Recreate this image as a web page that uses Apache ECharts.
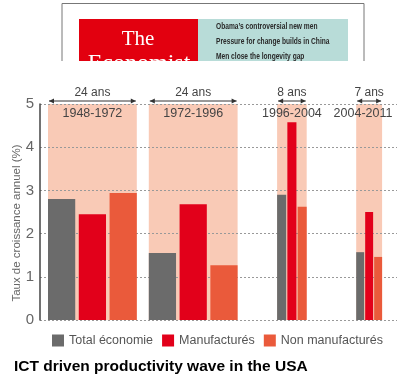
<!DOCTYPE html>
<html>
<head>
<meta charset="utf-8">
<script src="https://cdn.jsdelivr.net/npm/echarts@6/dist/echarts.min.js"></script>
<style>
  html, body { margin: 0; padding: 0; background: #fff; }
  #main { width: 397px; height: 379px; }
</style>
</head>
<body>
<div id="main"></div>
<script>
// periods (bands) and their lengths
var periods = ['1948-1972', '1972-1996', '1996-2004', '2004-2011'];
var durations = ['24 ans', '24 ans', '8 ans', '7 ans'];
var startYears = [1948, 1972, 1996, 2004];
var endYears = [1972, 1996, 2004, 2011];

// series values (% per year)
var totalEconomie = [2.8, 1.55, 2.9, 1.57];
var manufactures = [2.45, 2.68, 4.58, 2.5];
var nonManufactures = [2.94, 1.27, 2.62, 1.46];

var yTicks = [0, 1, 2, 3, 4, 5];

// layout: horizontal axis is in pixels-from-axis, bands are proportional to years
var PX_PER_YEAR = 3.7;
var GAPS = [8, 12, 39.5, 49.5];
var bandStart = [], bandEnd = [];
var cur = 0;
for (var i = 0; i < periods.length; i++) {
  cur += GAPS[i];
  bandStart.push(cur);
  cur += (endYears[i] - startYears[i]) * PX_PER_YEAR;
  bandEnd.push(cur);
}

var FONT = 'Liberation Sans';
var yMax = yTicks[yTicks.length - 1];

function bandItem(params, api) {
  var i = api.value(0);
  var p0 = api.coord([bandStart[i], yMax]);
  var p1 = api.coord([bandEnd[i], 0]);
  return {
    type: 'rect',
    shape: { x: p0[0], y: p0[1], width: p1[0] - p0[0], height: p1[1] - p0[1] },
    style: { fill: '#f9cab6' }
  };
}

function barItem(k) {
  return function (params, api) {
    var i = api.value(0), v = api.value(1);
    var w = bandEnd[i] - bandStart[i];
    var g = w * 0.04;
    var bw = (w - 2 * g) / 3;
    var x0 = bandStart[i] + k * (bw + g);
    var p0 = api.coord([x0, v]);
    var p1 = api.coord([x0 + bw, 0]);
    return {
      type: 'rect',
      shape: { x: p0[0], y: p0[1], width: p1[0] - p0[0], height: p1[1] - p0[1] },
      style: api.style()
    };
  };
}

function noteItem(params, api) {
  var i = api.value(0);
  var p0 = api.coord([bandStart[i], yMax]);
  var p1 = api.coord([bandEnd[i], yMax]);
  var y = p0[1] - 3;
  var x1 = p0[0] + 1, x2 = p1[0] - 1;
  var cx = (p0[0] + p1[0]) / 2;
  var labelX = Math.min(cx, api.getWidth() - 34);
  return {
    type: 'group',
    children: [
      { type: 'line', shape: { x1: x1, y1: y, x2: x2, y2: y }, style: { stroke: '#333', lineWidth: 1 } },
      { type: 'polygon', shape: { points: [[x1, y], [x1 + 5, y - 2.5], [x1 + 5, y + 2.5]] }, style: { fill: '#333' } },
      { type: 'polygon', shape: { points: [[x2, y], [x2 - 5, y - 2.5], [x2 - 5, y + 2.5]] }, style: { fill: '#333' } },
      { type: 'text', style: { text: durations[i], x: cx, y: y - 8, align: 'center', verticalAlign: 'middle',
          font: '12px "' + FONT + '"', fill: '#444' } },
      { type: 'text', style: { text: periods[i], x: labelX, y: p0[1] + 10, align: 'center', verticalAlign: 'middle',
          font: '12.5px "' + FONT + '"', fill: '#444' } }
    ]
  };
}

var idx = periods.map(function (p, i) { return [i, yMax]; });
function pairs(arr) { return arr.map(function (v, i) { return [i, v]; }); }

var headFont = 'bold 8.5px "Liberation Sans"';

var chart = echarts.init(document.getElementById('main'));
chart.setOption({
  animation: false,
  backgroundColor: '#fff',
  title: {
    text: 'ICT driven productivity wave in the USA',
    left: 9, top: 354,
    textStyle: { fontFamily: FONT, fontSize: 15.5, fontWeight: 'bold', color: '#000' }
  },
  legend: {
    left: 47, top: 329, width: 350,
    itemWidth: 12, itemHeight: 12, itemGap: 9,
    icon: 'rect',
    textStyle: { fontFamily: FONT, fontSize: 12.5, color: '#555' },
    data: ['Total économie', 'Manufacturés', 'Non manufacturés']
  },
  grid: { left: 40, right: 0, top: 104, bottom: 59, outerBoundsMode: 'none', containLabel: false },
  xAxis: { type: 'value', min: 0, max: 357, show: false },
  yAxis: {
    type: 'value', min: 0, max: yMax, interval: 1, z: 1,
    name: 'Taux de croissance annuel (%)',
    nameLocation: 'middle', nameGap: 17, nameMoveOverlap: false,
    nameTextStyle: { fontFamily: FONT, fontSize: 11.5, color: '#666', padding: [0, 22, 0, 0] },
    axisLine: { show: true, lineStyle: { color: '#444', width: 1.5 } },
    axisTick: { show: false },
    axisLabel: { fontFamily: FONT, fontSize: 15, color: '#666', margin: 6 },
    splitLine: { show: true, lineStyle: { color: '#999', type: [2, 2], width: 1 } }
  },
  graphic: [
    { type: 'polyline', shape: { points: [[62, 62], [62, 3.5], [364, 3.5], [364, 62]] }, style: { stroke: '#777', fill: null, lineWidth: 1 } },
    { type: 'rect', shape: { x: 79, y: 19, width: 119, height: 42 }, style: { fill: '#e2000f' } },
    { type: 'rect', shape: { x: 198, y: 19, width: 150, height: 42 }, style: { fill: '#b8dcd8' } },
    { type: 'text', style: { text: 'The', x: 138, y: 39, align: 'center', verticalAlign: 'middle', font: '21px "Liberation Serif"', fill: '#fff' } },
    { type: 'text', style: { text: 'Economist', x: 139, y: 64, align: 'center', verticalAlign: 'middle', font: '24px "Liberation Serif"', fill: '#fff' } },
    { type: 'text', x: 216, y: 27, scaleX: 0.78, style: { text: 'Obama\u2019s controversial new men', x: 0, y: 0, verticalAlign: 'middle', font: headFont, fill: '#2a2a2a' } },
    { type: 'text', x: 216, y: 42, scaleX: 0.78, style: { text: 'Pressure for change builds in China', x: 0, y: 0, verticalAlign: 'middle', font: headFont, fill: '#2a2a2a' } },
    { type: 'text', x: 216, y: 57, scaleX: 0.78, style: { text: 'Men close the longevity gap', x: 0, y: 0, verticalAlign: 'middle', font: headFont, fill: '#2a2a2a' } },
    { type: 'rect', shape: { x: 55, y: 61, width: 320, height: 20 }, style: { fill: '#fff' } }
  ],
  series: [
    { type: 'custom', name: 'bands', z: 0, silent: true, renderItem: bandItem, data: idx },
    { type: 'custom', name: 'Total économie', z: 2, renderItem: barItem(0), itemStyle: { color: '#6b6b6b' }, data: pairs(totalEconomie) },
    { type: 'custom', name: 'Manufacturés', z: 2, renderItem: barItem(1), itemStyle: { color: '#e2001a' }, data: pairs(manufactures) },
    { type: 'custom', name: 'Non manufacturés', z: 2, renderItem: barItem(2), itemStyle: { color: '#ea5a3b' }, data: pairs(nonManufactures) },
    { type: 'custom', name: 'notes', z: 3, silent: true, renderItem: noteItem, data: idx }
  ]
});
</script>
</body>
</html>
